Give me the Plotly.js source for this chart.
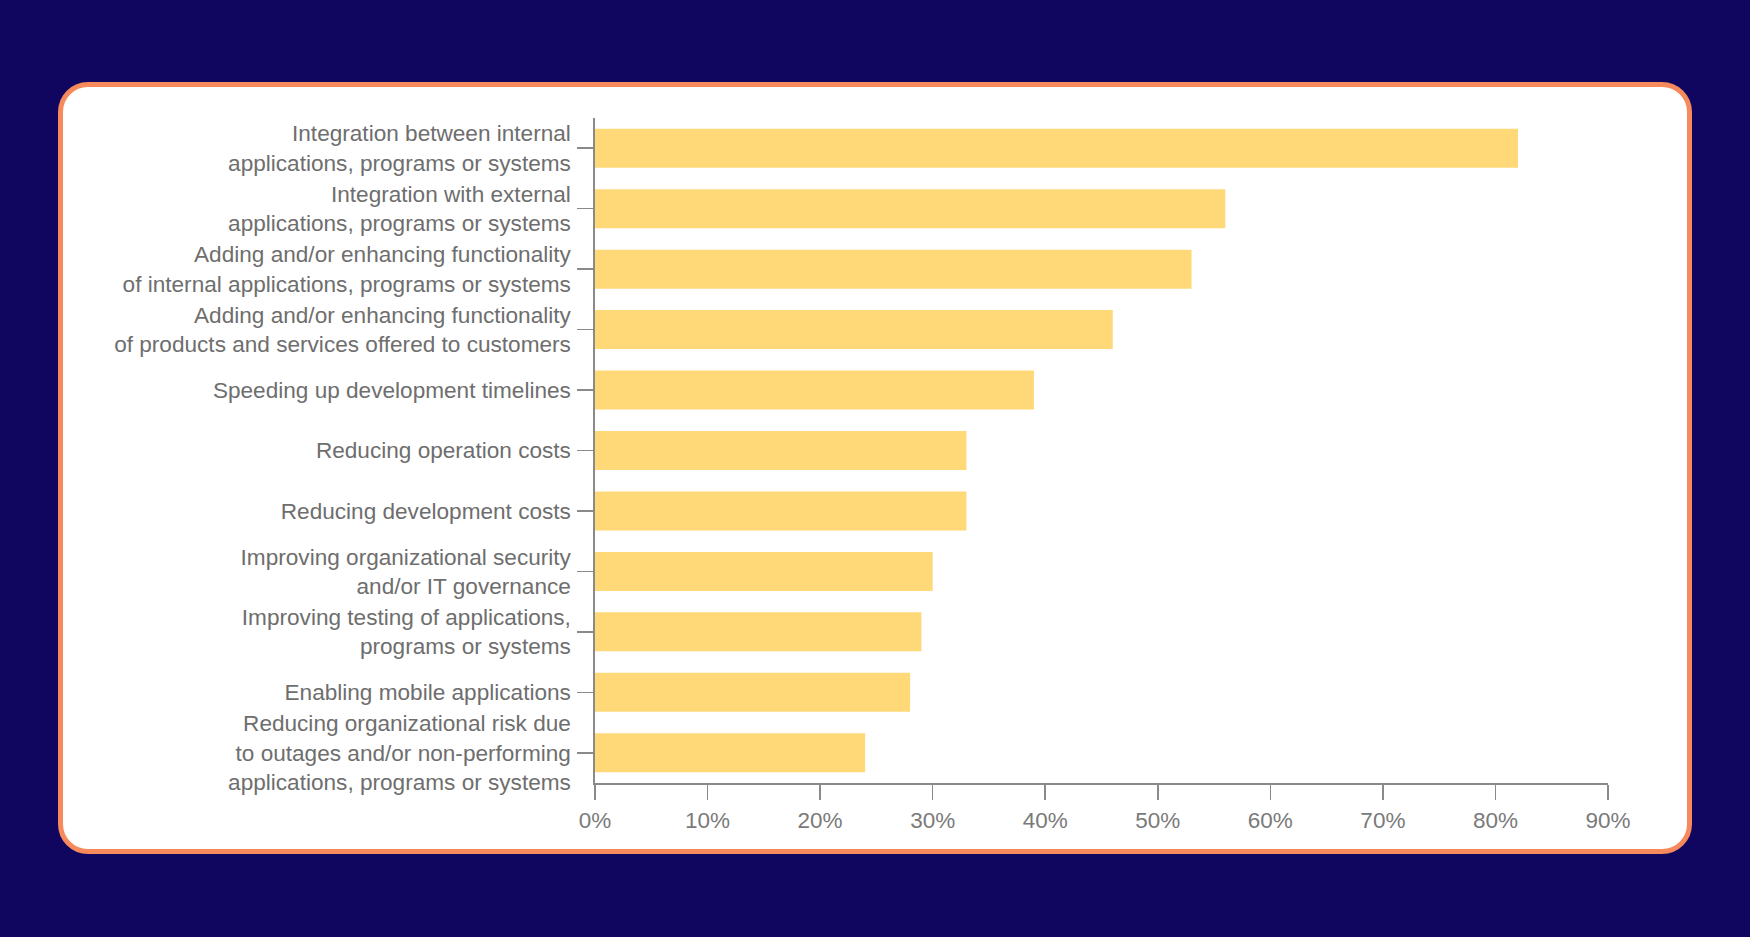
<!DOCTYPE html>
<html>
<head>
<meta charset="utf-8">
<script src="https://cdn.plot.ly/plotly-3.0.1.min.js"></script>
<style>
    html, body { margin: 0; padding: 0; }
    body { width: 1750px; height: 937px; background: #10065f; position: relative; overflow: hidden; }
    #card {
        position: absolute; left: 58px; top: 82px; width: 1624px; height: 762px;
        background: #ffffff; border: 5px solid #f68a5c; border-radius: 30px;
    }
    #chart { position: absolute; left: 0; top: 0; width: 1750px; height: 937px; }
</style>
</head>
<body>
<div id="card"></div>
<div id="chart"></div>
<script>
document.addEventListener('DOMContentLoaded', function() {
    // Survey answers, top to bottom
    const categories = [
        'Integration between internal<br>applications, programs or systems',
        'Integration with external<br>applications, programs or systems',
        'Adding and/or enhancing functionality<br>of internal applications, programs or systems',
        'Adding and/or enhancing functionality<br>of products and services offered to customers',
        'Speeding up development timelines',
        'Reducing operation costs',
        'Reducing development costs',
        'Improving organizational security<br>and/or IT governance',
        'Improving testing of applications,<br>programs or systems',
        'Enabling mobile applications',
        'Reducing organizational risk due<br>to outages and/or non-performing<br>applications, programs or systems'
    ];
    const shares = [82, 56, 53, 46, 39, 33, 33, 30, 29, 28, 24];
    const xTicks = [0, 10, 20, 30, 40, 50, 60, 70, 80, 90];
    const xTickLabels = xTicks.map(v => v + '%');

    const trace = {
        type: 'bar',
        orientation: 'h',
        x: shares,
        y: categories,
        marker: { color: '#ffd977' },
        hoverinfo: 'x+y'
    };

    const layout = {
        width: 1750,
        height: 937,
        margin: { l: 595, r: 142, t: 118, b: 154 },
        paper_bgcolor: 'rgba(0,0,0,0)',
        plot_bgcolor: 'rgba(0,0,0,0)',
        font: { family: 'Liberation Sans, Arial, sans-serif', size: 22, color: '#6e6e6e' },
        bargap: 0.355,
        showlegend: false,
        xaxis: {
            range: [0, 90],
            tickvals: xTicks,
            ticktext: xTickLabels,
            ticks: 'outside',
            ticklen: 15,
            tickwidth: 1.6,
            tickcolor: '#8a8a8a',
            showline: true,
            linecolor: '#8a8a8a',
            linewidth: 1.6,
            showgrid: false,
            zeroline: false,
            fixedrange: true,
            ticklabelstandoff: 1,
            tickfont: { size: 22.5, color: '#7a7a7a' }
        },
        yaxis: {
            autorange: 'reversed',
            ticks: 'outside',
            ticklen: 16,
            tickwidth: 1.6,
            tickcolor: '#8a8a8a',
            showline: true,
            linecolor: '#8a8a8a',
            linewidth: 1.6,
            showgrid: false,
            zeroline: false,
            fixedrange: true,
            ticklabelstandoff: 2,
            tickfont: { size: 22.6, color: '#6e6e6e' }
        }
    };

    Plotly.newPlot('chart', [trace], layout, { displayModeBar: false, staticPlot: true });
});
</script>
</body>
</html>
